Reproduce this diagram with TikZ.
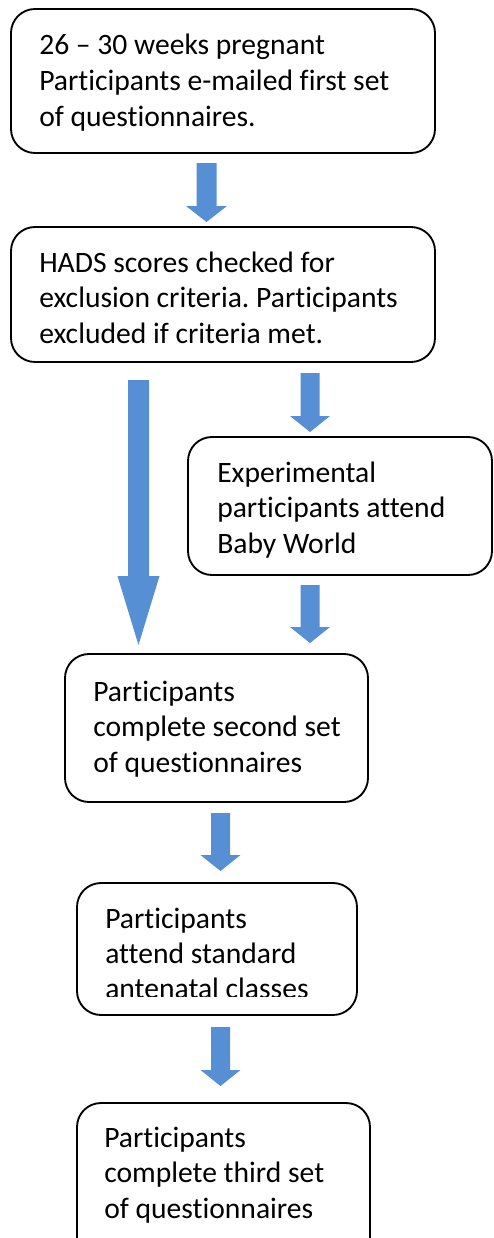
\documentclass[tikz,border=0pt]{standalone}
\usepackage{fontspec}
\setmainfont{Carlito}[Ligatures={NoCommon}]
\frenchspacing
\usetikzlibrary{fit}
\definecolor{arrowblue}{RGB}{87,143,213}
\newcommand\blockarrow[7]{%
  % #1 name, #2 cx, #3 top, #4 head start, #5 tip, #6 shaft half width, #7 head half width
  \coordinate (#1-top) at (#2,#3);
  \coordinate (#1-tip) at (#2,#5);
  \fill[arrowblue] ({#2-#6},#3) -- ({#2+#6},#3) -- ({#2+#6},#4) -- ({#2+#7},#4)
    -- (#1-tip) -- ({#2-#7},#4) -- ({#2-#6},#4) -- cycle;}
\tikzset{
  box/.style={draw=black, line width=1.4pt, rounded corners=18pt, inner sep=0pt, fill=none},
  txt/.style={anchor=base west, inner sep=0pt, align=left,
    font=\fontsize{22.2}{26.9}\selectfont}
}
\begin{document}
\begin{tikzpicture}[x=0.75pt, y=-0.75pt]
\clip (0,0) rectangle (493,1238);
\fill[white] (0,0) rectangle (493,1238);

% boxes
\node[box, fit={(11,9) (435,153)}] (b1) {};
\node[box, fit={(11,227) (435,362)}] (b2) {};
\node[box, fit={(188,437) (492,575)}] (b3) {};
\node[box, fit={(65,654) (368,802)}] (b4) {};
\node[box, fit={(77,883) (357,1015)}] (b5) {};
\node[box, fit={(77,1103) (370,1262)}] (b6) {};

% texts
\node[txt] (t1) at (39,55) {\begin{tabular}[t]{@{}l@{}}26 \textendash{} 30 weeks pregnant\\Participants e-mailed first set\\of questionnaires.\end{tabular}};
\node[txt] (t2) at (39,272) {\begin{tabular}[t]{@{}l@{}}HADS scores checked for\\exclusion criteria. Participants\\excluded if criteria met.\end{tabular}};
\node[txt] (t3) at (217,482) {\begin{tabular}[t]{@{}l@{}}Experimental\\participants attend\\Baby World\end{tabular}};
\node[txt] (t4) at (93,701) {\begin{tabular}[t]{@{}l@{}}Participants\\complete second set\\of questionnaires\end{tabular}};
\node[txt] (t5) at (105,928) {\begin{tabular}[t]{@{}l@{}}Participants\\attend standard\end{tabular}};
\begin{scope}
  \clip (77,883) rectangle (357,996);
  \node[txt] (t5c) at (105,998.5) {antenatal classes};
\end{scope}
\node[txt] (t6) at (104,1147) {\begin{tabular}[t]{@{}l@{}}Participants\\complete third set\\of questionnaires\end{tabular}};

% block arrows
\blockarrow{a1}{206.5}{163}{206}{222}{10}{20.5}
\blockarrow{a2}{138.5}{380}{576}{645}{10.5}{21}
\blockarrow{a3}{310}{373}{416}{432}{9.5}{20}
\blockarrow{a4}{310}{585}{627}{643}{9.5}{20}
\blockarrow{a5}{220.5}{813}{855}{871}{9.5}{20}
\blockarrow{a6}{220.5}{1027}{1070}{1086}{9.5}{20}
\end{tikzpicture}
\end{document}
